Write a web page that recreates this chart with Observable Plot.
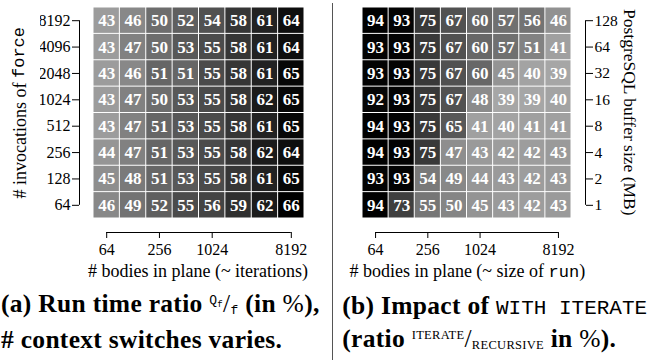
<!DOCTYPE html>
<html><head><meta charset="utf-8">
<script src="https://cdn.jsdelivr.net/npm/d3@7"></script>
<script src="https://cdn.jsdelivr.net/npm/@observablehq/plot@0.6"></script>
<style>body{margin:0}</style></head>
<body>
<div style="display:flex;width:652px;height:360px;overflow:hidden;background:white">
  <div style="width:332px;flex:none">
    <div style="display:flex">
      <div style="width:40px;height:225px;display:flex;align-items:center;justify-content:center;flex:none">
        <div style="writing-mode:vertical-rl;transform:rotate(180deg);font-family:'Liberation Serif';font-size:18px;white-space:nowrap"># invocations of <span style="font-family:'Liberation Mono';font-size:17px">force</span></div>
      </div>
      <div id="left" style="flex:none"></div>
    </div>
    <div style="margin-left:66px;width:264px;text-align:center;font-family:'Liberation Serif';font-size:18px;line-height:18px;white-space:nowrap"># bodies in plane (~ iterations)</div>
    <div style="margin:9px 0 0 1px;font-family:'Liberation Serif';font-size:25.5px;letter-spacing:0.3px;font-weight:bold;line-height:30px;white-space:nowrap">(a) Run time ratio <span style="font-family:'Liberation Mono';font-weight:normal;font-size:13px;position:relative;top:-8px">Q<span style="font-size:9px;position:relative;top:3px">f</span></span><span style="font-weight:normal">/</span><span style="font-family:'Liberation Mono';font-weight:normal;font-size:13px;position:relative;top:2px">f</span> (in <span style="font-weight:normal">%</span>),<br># context switches varies.</div>
  </div>
  <div style="width:1.3px;height:357px;margin-top:3px;background:#555;flex:none"></div>
  <div style="width:318px;flex:none">
    <div style="display:flex">
      <div id="right" style="flex:none"></div>
      <div style="width:28px;margin-left:-8px;height:225px;display:flex;align-items:center;justify-content:center;flex:none">
        <div style="writing-mode:vertical-rl;font-family:'Liberation Serif';font-size:17.5px;white-space:nowrap">PostgreSQL buffer size (MB)</div>
      </div>
    </div>
    <div style="margin-left:2px;width:264px;text-align:center;font-family:'Liberation Serif';font-size:18px;line-height:18px;white-space:nowrap"># bodies in plane (~ size of <span style="font-family:'Liberation Mono';font-size:17px">run</span>)</div>
    <div style="margin:9px 0 0 9px;font-family:'Liberation Serif';font-size:25.5px;letter-spacing:0.3px;font-weight:bold;line-height:30px;white-space:nowrap">(b) Impact of <span style="font-family:'Liberation Mono';font-weight:normal;font-size:21px;letter-spacing:0">WITH&nbsp;ITERATE</span><br>(ratio <span style="font-weight:normal;font-size:12.5px;position:relative;top:-8px">ITERATE</span><span style="font-weight:normal">/</span><span style="font-weight:normal;font-size:12.5px;position:relative;top:2px">RECURSIVE</span> in <span style="font-weight:normal">%</span>).</div>
  </div>
</div>
<script>
// ---------- data ----------
const bodies = [64, 128, 256, 512, 1024, 2048, 4096, 8192];          // columns (both panels)
const bodyTicks = [64, 256, 1024, 8192];
const invocations = [8192, 4096, 2048, 1024, 512, 256, 128, 64];     // rows, left panel (top → bottom)
const bufferSizes = [128, 64, 32, 16, 8, 4, 2, 1];                   // rows, right panel (top → bottom)

// (a) run time ratio Qf/f in %
const ratioInv8192 = [43, 46, 50, 52, 54, 58, 61, 64];
const ratioInv4096 = [43, 47, 50, 53, 55, 58, 61, 64];
const ratioInv2048 = [43, 46, 51, 51, 55, 58, 61, 65];
const ratioInv1024 = [43, 47, 50, 53, 55, 58, 62, 65];
const ratioInv512  = [43, 47, 51, 53, 55, 58, 61, 65];
const ratioInv256  = [44, 47, 51, 53, 55, 58, 62, 64];
const ratioInv128  = [45, 48, 51, 53, 55, 58, 61, 65];
const ratioInv64   = [46, 49, 52, 55, 56, 59, 62, 66];
const runTimeRatio = [ratioInv8192, ratioInv4096, ratioInv2048, ratioInv1024, ratioInv512, ratioInv256, ratioInv128, ratioInv64];

// (b) ratio ITERATE / RECURSIVE in %
const iterBuf128 = [94, 93, 75, 67, 60, 57, 56, 46];
const iterBuf64  = [93, 93, 75, 67, 60, 57, 51, 41];
const iterBuf32  = [93, 93, 75, 67, 60, 45, 40, 39];
const iterBuf16  = [92, 93, 75, 67, 48, 39, 39, 40];
const iterBuf8   = [94, 93, 75, 65, 41, 40, 41, 41];
const iterBuf4   = [94, 93, 75, 47, 43, 42, 42, 43];
const iterBuf2   = [93, 93, 54, 49, 44, 43, 42, 43];
const iterBuf1   = [94, 73, 55, 50, 45, 43, 42, 43];
const iterateRatio = [iterBuf128, iterBuf64, iterBuf32, iterBuf16, iterBuf8, iterBuf4, iterBuf2, iterBuf1];

// ---------- helpers ----------
const SQ = Math.SQRT2;
const GAP = 14;
const table = (rows, grid) => rows.flatMap((r, i) => bodies.map((b, j) => ({x: b, y: r, v: grid[i][j]})));
const logDomain = arr => [d3.min(arr) / SQ, d3.max(arr) * SQ];

function heat(data, rows, side, opts) {
  const xDom = logDomain(bodies), yDom = logDomain(rows);
  const left = side === "left";
  return Plot.plot({
    width: opts.width, height: 262,
    marginLeft: opts.marginLeft, marginRight: opts.marginRight, marginTop: 7, marginBottom: 30,
    style: {fontFamily: "Liberation Serif", fontSize: "16px"},
    x: {type: "log", base: 2, domain: xDom, insetLeft: left ? GAP : 0, insetRight: left ? 0 : GAP, axis: null},
    y: {type: "log", base: 2, domain: yDom, insetBottom: GAP, axis: null},
    color: {type: "linear", domain: d3.extent(data, d => d.v), range: [opts.light, "#000000"]},
    marks: [
      Plot.rect(data, {x1: d => d.x / SQ, x2: d => d.x * SQ, y1: d => d.y / SQ, y2: d => d.y * SQ, fill: "v", inset: 0.5}),
      Plot.text(data, {x: "x", y: "y", text: "v", fill: "white", fontWeight: "bold", fontSize: 17}),
      Plot.axisX({ticks: bodyTicks, tickFormat: d3.format("d"), tickSize: 6, tickPadding: 5, label: null}),
      Plot.axisY({anchor: side, ticks: rows, tickFormat: d3.format("d"), tickSize: 7, tickPadding: 2, label: null, fontSize: left ? 16 : 15.5}),
      Plot.ruleY([yDom[0]], {x1: d3.min(bodies), x2: d3.max(bodies), dy: GAP, stroke: "black"}),
      Plot.ruleX([left ? xDom[0] : xDom[1]], {y1: d3.min(rows), y2: d3.max(rows), dx: left ? -GAP : GAP, stroke: "black"})
    ]
  });
}

document.getElementById("left").append(
  heat(table(invocations, runTimeRatio), invocations, "left", {width: 290, marginLeft: 39, marginRight: 26, light: "#9c9c9c"})
);
document.getElementById("right").append(
  heat(table(bufferSizes, iterateRatio), bufferSizes, "right", {width: 290, marginLeft: 29, marginRight: 38, light: "#a6a6a6"})
);
</script>
</body></html>
